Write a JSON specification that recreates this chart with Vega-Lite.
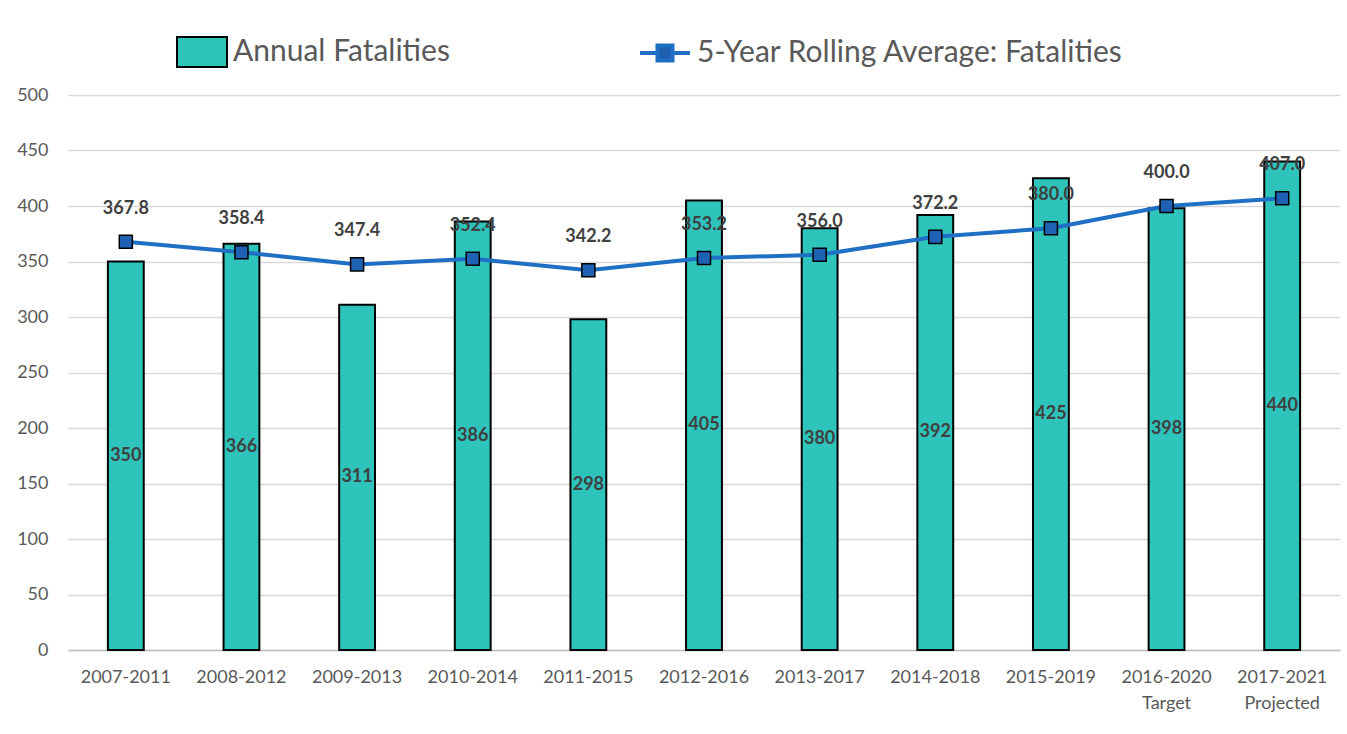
{
  "$schema": "https://vega.github.io/schema/vega-lite/v6.json",
  "autosize": "none",
  "width": 1272,
  "height": 555,
  "padding": {"left": 68, "top": 95, "right": 7, "bottom": 84},
  "background": "white",
  "config": {
    "font": "Lato",
    "view": {"stroke": null}
  },
  "data": {
    "values": [
      {"period": "2007-2011", "annual": 350, "avg": 367.8},
      {"period": "2008-2012", "annual": 366, "avg": 358.4},
      {"period": "2009-2013", "annual": 311, "avg": 347.4},
      {"period": "2010-2014", "annual": 386, "avg": 352.4},
      {"period": "2011-2015", "annual": 298, "avg": 342.2},
      {"period": "2012-2016", "annual": 405, "avg": 353.2},
      {"period": "2013-2017", "annual": 380, "avg": 356.0},
      {"period": "2014-2018", "annual": 392, "avg": 372.2},
      {"period": "2015-2019", "annual": 425, "avg": 380.0},
      {"period": "2016-2020", "annual": 398, "avg": 400.0},
      {"period": "2017-2021", "annual": 440, "avg": 407.0}
    ]
  },
  "encoding": {
    "x": {
      "field": "period",
      "type": "nominal",
      "sort": null,
      "scale": {"paddingInner": 0.69, "paddingOuter": 0.345},
      "axis": {
        "title": null,
        "labelAngle": 0,
        "labelFontSize": 18,
        "labelColor": "#595959",
        "labelPadding": 18,
        "ticks": false,
        "domainColor": "#bfbfbf",
        "domainWidth": 1.5,
        "labelExpr": "datum.value == '2016-2020' ? ['2016-2020', 'Target'] : datum.value == '2017-2021' ? ['2017-2021', 'Projected'] : datum.value",
        "labelLineHeight": 26
      }
    }
  },
  "layer": [
    {
      "mark": {"type": "bar", "stroke": "black", "strokeWidth": 2},
      "encoding": {
        "y": {
          "field": "annual",
          "type": "quantitative",
          "scale": {"domain": [0, 500]},
          "axis": {
            "title": null,
            "values": [0, 50, 100, 150, 200, 250, 300, 350, 400, 450, 500],
            "labelFontSize": 18,
            "labelColor": "#595959",
            "labelPadding": 20,
            "ticks": false,
            "domain": false,
            "gridColor": "#d9d9d9",
            "gridWidth": 1.5
          }
        },
        "fill": {
          "datum": "Annual Fatalities",
          "type": "nominal",
          "scale": {"range": ["#2ec4bc"]},
          "legend": {
            "title": null,
            "orient": "none",
            "legendX": 108,
            "legendY": -69,
            "labelFontSize": 30,
            "labelLimit": 0,
            "labelColor": "#595959",
            "symbolType": "M-1,-0.6H1V0.6H-1Z",
            "symbolSize": 2500,
            "symbolStrokeColor": "black",
            "symbolStrokeWidth": 2,
            "labelOffset": 5
          }
        }
      }
    },
    {
      "mark": {"type": "text", "fontSize": 18, "fontWeight": "bold", "color": "#404040"},
      "encoding": {
        "y": {"field": "mid", "type": "quantitative"},
        "text": {"field": "annual", "type": "quantitative"}
      },
      "transform": [{"calculate": "datum.annual / 2", "as": "mid"}]
    },
    {
      "mark": {"type": "line", "strokeWidth": 4},
      "encoding": {
        "y": {"field": "avg", "type": "quantitative"},
        "stroke": {
          "datum": "5-Year Rolling Average: Fatalities",
          "type": "nominal",
          "scale": {"range": ["#1f6fc5"]},
          "legend": {
            "title": null,
            "orient": "none",
            "legendX": 570,
            "legendY": -69,
            "labelFontSize": 30,
            "labelLimit": 0,
            "labelColor": "#595959",
            "symbolType": "M-1,0H-0.3M0.3,0H1M-0.3,-0.3H0.3V0.3H-0.3Z",
            "symbolSize": 2500,
            "symbolStrokeWidth": 4,
            "symbolFillColor": "#1f5fb0",
            "labelOffset": 5
          }
        }
      }
    },
    {
      "mark": {"type": "point", "shape": "square", "filled": true, "size": 170, "fill": "#1f62b4", "stroke": "black", "strokeWidth": 1.5, "opacity": 1},
      "encoding": {
        "y": {"field": "avg", "type": "quantitative"}
      }
    },
    {
      "mark": {"type": "text", "fontSize": 18, "fontWeight": "bold", "color": "#404040", "dy": -33},
      "encoding": {
        "y": {"field": "avg", "type": "quantitative"},
        "text": {"field": "avg", "type": "quantitative", "format": ".1f"}
      }
    }
  ]
}
